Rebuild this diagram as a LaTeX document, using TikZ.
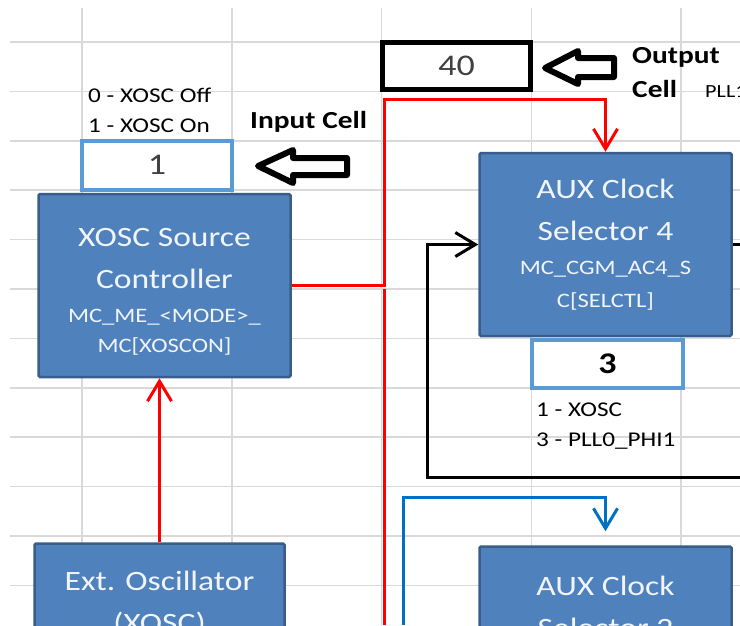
\documentclass[tikz,border=0pt]{standalone}
\usepackage{fontspec}
\setmainfont{Carlito}[FakeStretch=1.2]
\usepackage{tikz}
\usetikzlibrary{arrows.meta,calc,positioning}

\definecolor{boxblue}{HTML}{4F81BD}
\definecolor{boxedge}{HTML}{385D8A}
\definecolor{cellblue}{HTML}{5B9BD5}
\definecolor{linkblue}{HTML}{0070C0}
\definecolor{gridgray}{HTML}{D9D9D9}
\definecolor{cellgray}{HTML}{404040}

% register names inside the blue boxes
\newcommand{\regfont}{\fontsize{20.5}{31.5}\selectfont}

\tikzset{
    gridline/.style={
        draw=gridgray,
        line width=1.5pt
    },
    blockbox/.style={
        rectangle,
        draw=boxedge,
        fill=boxblue,
        line width=2.5pt,
        rounded corners=1.5pt,
        minimum width=252pt,
        minimum height=183pt,
        inner sep=0pt,
        align=center,
        text=white!92!boxblue,
        font=\fontsize{28}{42}\selectfont
    },
    incellbox/.style={
        rectangle,
        draw=cellblue,
        fill=white,
        line width=4pt,
        minimum width=150pt,
        minimum height=49pt,
        inner sep=0pt,
        font=\fontsize{30}{36}\selectfont
    },
    outcellbox/.style={
        rectangle,
        draw=black,
        fill=white,
        line width=5pt,
        minimum width=148pt,
        minimum height=47pt,
        inner sep=0pt,
        font=\fontsize{30}{36}\selectfont
    },
    hollowarrow/.style={
        draw=black,
        fill=white,
        line width=6pt,
        line join=round
    },
    notetext/.style={
        anchor=base west,
        align=left,
        inner sep=0pt,
        font=\fontsize{21}{29.5}\selectfont
    },
    labeltext/.style={
        anchor=base west,
        align=left,
        inner sep=0pt,
        font=\fontsize{24.5}{34}\selectfont\bfseries
    },
    link/.style={
        line width=3pt,
        -{Straight Barb[length=20pt,width=24pt]}
    },
    redlink/.style={link, draw=red},
    redline/.style={line width=3pt, draw=red},
    bluelink/.style={link, draw=linkblue},
    blacklink/.style={link, draw=black},
    blackline/.style={line width=3pt, draw=black}
}

\begin{document}
\begin{tikzpicture}[x=1pt, y=-1pt]
    \useasboundingbox (0,0) rectangle (740,625);
    \clip (0,0) rectangle (740,625);

    % Sheet grid
    \foreach \gy in {42,91.4,...,590} {
        \draw[gridline] (10,\gy) -- (740,\gy);
    }
    \foreach \gx in {82,231.75,...,700} {
        \draw[gridline] (\gx,8) -- (\gx,625);
    }

    % Input side: XOSC enable cell and source controller
    \node[notetext] (xoscnote) at (88,132) {0 - XOSC Off\\1 - XOSC On};
    \node[labeltext] (inlabel) at (250,128) {Input Cell};
    \node[incellbox, text=cellgray] (incell) at (157,165) {1};
    \draw[hollowarrow] (258,166) -- (293,150) -- (293,158) -- (347,158)
        -- (347,175) -- (293,175) -- (293,183) -- cycle;

    \node[blockbox] (xosc) at (164.5,285.5)
        {\rule{0pt}{30pt}XOSC Source\\Controller\\[-8pt]\regfont MC\_ME\_<MODE>\_\\[-12pt]\regfont MC[XOSCON]};
    \node[blockbox, minimum width=250pt, minimum height=120pt] (extosc) at (159.5,603.5)
        {Ext. Oscillator\\(XOSC)};

    % Output side: divider cell and clock selectors
    \node[outcellbox, text=cellgray] (outcell) at (456.5,66) {40};
    \draw[hollowarrow] (545,68) -- (578,51) -- (578,58) -- (614,58)
        -- (614,77) -- (578,77) -- (578,84) -- cycle;
    \node[labeltext] (outlabel) at (632,97) {Output\\Cell};
    \node[notetext, font=\fontsize{18.5}{24}\selectfont] (pllnote) at (705,97) {PLL1};

    \node[blockbox] (aux4) at (605.5,244.5)
        {AUX Clock\\Selector 4\\[-8pt]\regfont MC\_CGM\_AC4\_S\\[-9pt]\regfont C[SELCTL]};
    \node[incellbox, minimum width=151pt, minimum height=48pt, font=\fontsize{30}{36}\selectfont\bfseries] (selcell) at (607.5,364) {3};
    \node[notetext] (selnote) at (536,446) {1 - XOSC\\3 - PLL0\_PHI1};

    \node[blockbox, minimum height=120pt] (aux2) at (605.5,606.5) {AUX Clock\\Selector 2};

    % --- Connections ---
    \coordinate (redbend) at (384,99);
    \coordinate (redgap)  at (384,289);
    \coordinate (redfoot) at (384,625);
    \draw[redlink] (extosc.north) -- (extosc.north |- xosc.south);
    \draw[redlink] (xosc.east) -| (redbend) -| (aux4.north);
    \draw[redline] (redgap) -- (redfoot);

    \coordinate (loopcorner) at (427,477);
    \coordinate (loopend)    at (740,477);
    \draw[blacklink] (loopend) -- (loopcorner) |- (aux4.west);
    \draw[blackline] (aux4.east) -- (aux4.east -| loopend);

    \coordinate (bluefoot) at (403,625);
    \coordinate (bluebend) at (403,497);
    \draw[bluelink, shorten >=14pt] (bluefoot) -- (bluebend) -| (aux2.north);
\end{tikzpicture}
\end{document}
